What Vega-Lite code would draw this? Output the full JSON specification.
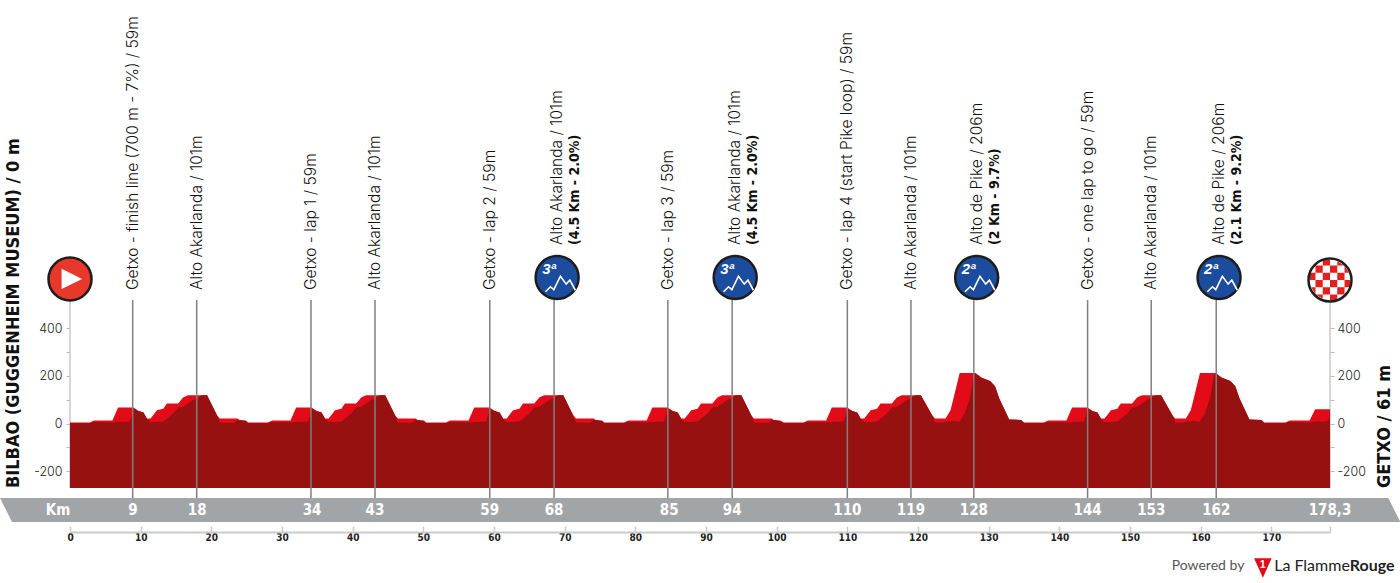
{
"$schema":"https://vega.github.io/schema/vega-lite/v6.json",
"width":1260,"height":532,"autosize":"none","padding":{"left":70,"right":70,"top":0,"bottom":51},
"background":"white",
"config":{"view":{"stroke":null},"axis":{"grid":false}},
"datasets":{
"profile":[
{"km":0,"upper":4,"lower":2},{"km":2.8,"upper":4,"lower":2},{"km":3.4,"upper":13,"lower":6},{"km":6.0,"upper":13,"lower":4},{"km":6.8,"upper":67,"lower":6},{"km":8.5,"upper":67,"lower":8},{"km":9.0,"upper":67,"lower":62},{"km":9.7,"upper":53,"lower":53},{"km":10.4,"upper":46,"lower":46},{"km":10.9,"upper":21,"lower":18},{"km":11.4,"upper":21,"lower":6},{"km":12.3,"upper":56,"lower":6},{"km":13.2,"upper":62,"lower":8},{"km":13.7,"upper":84,"lower":20},{"km":14.6,"upper":84,"lower":42},{"km":15.3,"upper":84,"lower":67},{"km":16.0,"upper":109,"lower":70},{"km":16.7,"upper":119,"lower":84},{"km":17.5,"upper":119,"lower":100},{"km":18.0,"upper":119,"lower":105},{"km":18.6,"upper":119,"lower":119},{"km":19.4,"upper":119,"lower":119},{"km":20.8,"upper":35,"lower":35},{"km":21.2,"upper":21,"lower":4},{"km":23.2,"upper":21,"lower":2},{"km":23.7,"upper":21,"lower":15},{"km":24.0,"upper":15,"lower":15},{"km":24.9,"upper":13,"lower":10},
{"km":25.2,"upper":4,"lower":2},{"km":28.0,"upper":4,"lower":2},{"km":28.6,"upper":13,"lower":6},{"km":31.2,"upper":13,"lower":4},{"km":32.0,"upper":67,"lower":6},{"km":33.7,"upper":67,"lower":8},{"km":34.2,"upper":67,"lower":62},{"km":34.9,"upper":53,"lower":53},{"km":35.6,"upper":46,"lower":46},{"km":36.1,"upper":21,"lower":18},{"km":36.6,"upper":21,"lower":6},{"km":37.5,"upper":56,"lower":6},{"km":38.4,"upper":62,"lower":8},{"km":38.9,"upper":84,"lower":20},{"km":39.8,"upper":84,"lower":42},{"km":40.5,"upper":84,"lower":67},{"km":41.2,"upper":109,"lower":70},{"km":41.9,"upper":119,"lower":84},{"km":42.7,"upper":119,"lower":100},{"km":43.2,"upper":119,"lower":105},{"km":43.8,"upper":119,"lower":119},{"km":44.6,"upper":119,"lower":119},{"km":46.0,"upper":35,"lower":35},{"km":46.4,"upper":21,"lower":4},{"km":48.4,"upper":21,"lower":2},{"km":48.9,"upper":21,"lower":15},{"km":49.2,"upper":15,"lower":15},{"km":50.1,"upper":13,"lower":10},
{"km":50.4,"upper":4,"lower":2},{"km":53.2,"upper":4,"lower":2},{"km":53.8,"upper":13,"lower":6},{"km":56.4,"upper":13,"lower":4},{"km":57.2,"upper":67,"lower":6},{"km":58.9,"upper":67,"lower":8},{"km":59.4,"upper":67,"lower":62},{"km":60.1,"upper":53,"lower":53},{"km":60.8,"upper":46,"lower":46},{"km":61.3,"upper":21,"lower":18},{"km":61.8,"upper":21,"lower":6},{"km":62.7,"upper":56,"lower":6},{"km":63.6,"upper":62,"lower":8},{"km":64.1,"upper":84,"lower":20},{"km":65.0,"upper":84,"lower":42},{"km":65.7,"upper":84,"lower":67},{"km":66.4,"upper":109,"lower":70},{"km":67.1,"upper":119,"lower":84},{"km":67.9,"upper":119,"lower":100},{"km":68.4,"upper":119,"lower":105},{"km":69.0,"upper":119,"lower":119},{"km":69.8,"upper":119,"lower":119},{"km":71.2,"upper":35,"lower":35},{"km":71.6,"upper":21,"lower":4},{"km":73.6,"upper":21,"lower":2},{"km":74.1,"upper":21,"lower":15},{"km":74.4,"upper":15,"lower":15},{"km":75.3,"upper":13,"lower":10},
{"km":75.6,"upper":4,"lower":2},{"km":78.4,"upper":4,"lower":2},{"km":79.0,"upper":13,"lower":6},{"km":81.6,"upper":13,"lower":4},{"km":82.4,"upper":67,"lower":6},{"km":84.1,"upper":67,"lower":8},{"km":84.6,"upper":67,"lower":62},{"km":85.3,"upper":53,"lower":53},{"km":86.0,"upper":46,"lower":46},{"km":86.5,"upper":21,"lower":18},{"km":87.0,"upper":21,"lower":6},{"km":87.9,"upper":56,"lower":6},{"km":88.8,"upper":62,"lower":8},{"km":89.3,"upper":84,"lower":20},{"km":90.2,"upper":84,"lower":42},{"km":90.9,"upper":84,"lower":67},{"km":91.6,"upper":109,"lower":70},{"km":92.3,"upper":119,"lower":84},{"km":93.1,"upper":119,"lower":100},{"km":93.6,"upper":119,"lower":105},{"km":94.2,"upper":119,"lower":119},{"km":95.0,"upper":119,"lower":119},{"km":96.4,"upper":35,"lower":35},{"km":96.8,"upper":21,"lower":4},{"km":98.8,"upper":21,"lower":2},{"km":99.3,"upper":21,"lower":15},{"km":99.6,"upper":15,"lower":15},{"km":100.5,"upper":13,"lower":10},
{"km":101.0,"upper":4,"lower":2},{"km":103.8,"upper":4,"lower":2},{"km":104.4,"upper":13,"lower":6},{"km":107.0,"upper":13,"lower":4},{"km":107.8,"upper":67,"lower":6},{"km":109.5,"upper":67,"lower":8},{"km":110.0,"upper":67,"lower":62},{"km":110.7,"upper":53,"lower":53},{"km":111.4,"upper":46,"lower":46},{"km":111.9,"upper":21,"lower":18},{"km":112.4,"upper":21,"lower":6},{"km":113.3,"upper":56,"lower":6},{"km":114.2,"upper":62,"lower":8},{"km":114.7,"upper":84,"lower":20},{"km":115.6,"upper":84,"lower":42},{"km":116.3,"upper":84,"lower":67},{"km":117.0,"upper":109,"lower":70},{"km":117.7,"upper":119,"lower":84},{"km":118.5,"upper":119,"lower":100},{"km":119.0,"upper":119,"lower":105},{"km":119.6,"upper":119,"lower":119},{"km":120.4,"upper":119,"lower":119},
{"km":122.0,"upper":35,"lower":35},{"km":122.4,"upper":21,"lower":4},{"km":123.6,"upper":21,"lower":4},{"km":123.9,"upper":21,"lower":7},{"km":124.6,"upper":56,"lower":12},{"km":125.9,"upper":213,"lower":8},{"km":126.6,"upper":213,"lower":42},{"km":127.3,"upper":213,"lower":105},{"km":127.9,"upper":213,"lower":205},{"km":128.1,"upper":213,"lower":213},{"km":129.0,"upper":193,"lower":193},{"km":130.2,"upper":179,"lower":179},{"km":130.9,"upper":157,"lower":157},{"km":131.5,"upper":105,"lower":105},{"km":132.9,"upper":17,"lower":17},{"km":134.6,"upper":15,"lower":15},
{"km":135.0,"upper":4,"lower":2},{"km":137.8,"upper":4,"lower":2},{"km":138.4,"upper":13,"lower":6},{"km":141.0,"upper":13,"lower":4},{"km":141.8,"upper":67,"lower":6},{"km":143.5,"upper":67,"lower":8},{"km":144.0,"upper":67,"lower":62},{"km":144.7,"upper":53,"lower":53},{"km":145.4,"upper":46,"lower":46},{"km":145.9,"upper":21,"lower":18},{"km":146.4,"upper":21,"lower":6},{"km":147.3,"upper":56,"lower":6},{"km":148.2,"upper":62,"lower":8},{"km":148.7,"upper":84,"lower":20},{"km":149.6,"upper":84,"lower":42},{"km":150.3,"upper":84,"lower":67},{"km":151.0,"upper":109,"lower":70},{"km":151.7,"upper":119,"lower":84},{"km":152.5,"upper":119,"lower":100},{"km":153.0,"upper":119,"lower":105},{"km":153.6,"upper":119,"lower":119},{"km":154.4,"upper":119,"lower":119},
{"km":156.0,"upper":35,"lower":35},{"km":156.4,"upper":21,"lower":4},{"km":157.6,"upper":21,"lower":4},{"km":157.9,"upper":21,"lower":7},{"km":158.6,"upper":56,"lower":12},{"km":159.9,"upper":213,"lower":8},{"km":160.6,"upper":213,"lower":42},{"km":161.3,"upper":213,"lower":105},{"km":161.9,"upper":213,"lower":205},{"km":162.1,"upper":213,"lower":213},{"km":163.0,"upper":193,"lower":193},{"km":164.2,"upper":179,"lower":179},{"km":164.9,"upper":157,"lower":157},{"km":165.5,"upper":105,"lower":105},{"km":166.9,"upper":17,"lower":17},{"km":168.6,"upper":15,"lower":15},
{"km":169.0,"upper":4,"lower":2},{"km":172.0,"upper":4,"lower":2},{"km":172.6,"upper":13,"lower":6},{"km":175.4,"upper":13,"lower":4},{"km":176.2,"upper":60,"lower":8},{"km":177.8,"upper":60,"lower":8},{"km":178.2,"upper":60,"lower":20},{"km":178.3,"upper":60,"lower":58}],
"band":[{"km":-9.91,"top":-313.7,"bottom":-313.7},{"km":-8.2,"top":-313.7,"bottom":-414.7},{"km":186.55,"top":-313.7,"bottom":-414.7},{"km":188.25,"top":-414.7,"bottom":-414.7}],
"markers":[{"km":8.87,"top":520,"bottom":-313.7},{"km":17.93,"top":520,"bottom":-313.7},{"km":34.1,"top":520,"bottom":-313.7},{"km":43.16,"top":520,"bottom":-313.7},{"km":59.4,"top":520,"bottom":-313.7},{"km":68.5,"top":520,"bottom":-313.7},{"km":84.6,"top":520,"bottom":-313.7},{"km":93.7,"top":520,"bottom":-313.7},{"km":110,"top":520,"bottom":-313.7},{"km":119,"top":520,"bottom":-313.7},{"km":127.9,"top":520,"bottom":-313.7},{"km":144,"top":520,"bottom":-313.7},{"km":153,"top":520,"bottom":-313.7},{"km":162.2,"top":520,"bottom":-313.7}],
"edges":[{"km":0,"top":520,"bottom":-272},{"km":178.3,"top":520,"bottom":-272}],
"single":[{"km":8.87,"elev":562,"label":"Getxo - finish line (700 m - 7%) / 59m"},{"km":17.93,"elev":562,"label":"Alto Akarlanda / 101m"},{"km":34.1,"elev":562,"label":"Getxo - lap 1 / 59m"},{"km":43.16,"elev":562,"label":"Alto Akarlanda / 101m"},{"km":59.4,"elev":562,"label":"Getxo - lap 2 / 59m"},{"km":84.6,"elev":562,"label":"Getxo - lap 3 / 59m"},{"km":110,"elev":562,"label":"Getxo - lap 4 (start Pike loop) / 59m"},{"km":119,"elev":562,"label":"Alto Akarlanda / 101m"},{"km":144,"elev":562,"label":"Getxo - one lap to go / 59m"},{"km":153,"elev":562,"label":"Alto Akarlanda / 101m"}],
"climbs":[{"km":68.5,"elev":752,"label":"Alto Akarlanda / 101m","detail":"(4.5 Km - 2.0%)"},{"km":93.7,"elev":752,"label":"Alto Akarlanda / 101m","detail":"(4.5 Km - 2.0%)"},{"km":127.9,"elev":752,"label":"Alto de Pike / 206m","detail":"(2 Km - 9.7%)"},{"km":162.2,"elev":752,"label":"Alto de Pike / 206m","detail":"(2.1 Km - 9.2%)"}],
"badges":[{"km":68.93,"elev":614.7,"cat":"3ª"},{"km":94.13,"elev":614.7,"cat":"3ª"},{"km":128.3,"elev":614.7,"cat":"2ª"},{"km":162.6,"elev":614.7,"cat":"2ª"}],
"start":[{"km":0,"elev":608.4}],
"finish":[{"km":178.3,"elev":604}],
"kmlabels":[{"km":-1.7,"elev":-365,"label":"Km"},{"km":8.9,"elev":-365,"label":"9"},{"km":18,"elev":-365,"label":"18"},{"km":34.25,"elev":-365,"label":"34"},{"km":43.15,"elev":-365,"label":"43"},{"km":59.4,"elev":-365,"label":"59"},{"km":68.5,"elev":-365,"label":"68"},{"km":84.8,"elev":-365,"label":"85"},{"km":93.7,"elev":-365,"label":"94"},{"km":110,"elev":-365,"label":"110"},{"km":119,"elev":-365,"label":"119"},{"km":127.9,"elev":-365,"label":"128"},{"km":144,"elev":-365,"label":"144"},{"km":153,"elev":-365,"label":"153"},{"km":162.2,"elev":-365,"label":"162"},{"km":178.3,"elev":-365,"label":"178,3"}],
"sideStart":[{"km":-7.9,"elev":-272,"label":"BILBAO (GUGGENHEIM MUSEUM) / 0 m"}],
"sideEnd":[{"km":186.1,"elev":-272,"label":"GETXO / 61 m"}],
"powered":[{"km":155.9,"elev":-600,"label":"Powered by"}],
"brandA":[{"km":170.4,"elev":-600,"label":"La Flamme"}],
"brandB":[{"km":181.1,"elev":-600,"label":"Rouge"}],
"logo":[{"km":168.8,"elev":-608,"label":"1"}]
},
"encoding":{"x":{"field":"km","type":"quantitative","title":null,"scale":{"domain":[0,178.3],"nice":false,"zero":false},
"axis":{"orient":"bottom","title":null,"values":[0,10,20,30,40,50,60,70,80,90,100,110,120,130,140,150,160,170,178.3],"labelExpr":"datum.value>175?'':toString(datum.value)","domainColor":"#c9cbcc","domainWidth":2,"tickColor":"#c9cbcc","tickWidth":1.5,"tickSize":-6,"labelPadding":6,"labelFont":"DejaVu Sans Condensed","labelFontWeight":"bold","labelFontSize":10,"labelColor":"#222222","labelFlush":false,"labelOverlap":false}}},
"layer":[
{"data":{"name":"band"},"mark":{"type":"area","color":"#a2a5a7"},"encoding":{"y":{"field":"top","type":"quantitative","title":null,"scale":{"domain":[-456.8,1783],"nice":false,"zero":false},"axis":{"orient":"left","title":null,"values":[-200,-100,0,100,200,300,400],"labelExpr":"datum.value%200==0?toString(datum.value):''","domain":false,"tickColor":"#b5b5b5","tickSize":4,"tickWidth":1,"labelPadding":4,"labelFont":"Inter","labelFontWeight":300,"labelFontSize":12.5,"labelColor":"#222222"}},"y2":{"field":"bottom"}}},
{"data":{"name":"edges"},"mark":{"type":"rule","color":"#c9c9c9","strokeWidth":1.5},"encoding":{"y":{"field":"top","type":"quantitative","title":null,"scale":{"domain":[-456.8,1783],"nice":false,"zero":false},"axis":{"orient":"right","title":null,"values":[-200,-100,0,100,200,300,400],"labelExpr":"datum.value%200==0?toString(datum.value):''","domain":false,"tickColor":"#b5b5b5","tickSize":4,"tickWidth":1,"labelPadding":3,"labelFont":"Inter","labelFontWeight":300,"labelFontSize":12.5,"labelColor":"#222222"}},"y2":{"field":"bottom"}}},
{"data":{"name":"profile"},"mark":{"type":"area","color":"#e30b17"},"encoding":{"y":{"field":"upper","type":"quantitative","scale":{"domain":[-456.8,1783],"nice":false,"zero":false},"axis":null},"y2":{"datum":-272}}},
{"data":{"name":"profile"},"mark":{"type":"area","color":"#981111"},"encoding":{"y":{"field":"lower","type":"quantitative","scale":{"domain":[-456.8,1783],"nice":false,"zero":false},"axis":null},"y2":{"datum":-272}}},
{"data":{"name":"markers"},"mark":{"type":"rule","color":"#7f7f7f","strokeWidth":1.5},"encoding":{"y":{"field":"top","type":"quantitative","scale":{"domain":[-456.8,1783],"nice":false,"zero":false},"axis":null},"y2":{"field":"bottom"}}},
{"data":{"name":"single"},"mark":{"type":"text","angle":270,"align":"left","baseline":"middle","font":"Inter","fontWeight":300,"fontSize":15.6,"color":"#111111"},"encoding":{"y":{"field":"elev","type":"quantitative","scale":{"domain":[-456.8,1783],"nice":false,"zero":false},"axis":null},"text":{"field":"label"}}},
{"data":{"name":"climbs"},"mark":{"type":"text","angle":270,"align":"left","baseline":"middle","font":"Inter","fontWeight":300,"fontSize":15.6,"color":"#111111","dy":3},"encoding":{"y":{"field":"elev","type":"quantitative","scale":{"domain":[-456.8,1783],"nice":false,"zero":false},"axis":null},"text":{"field":"label"}}},
{"data":{"name":"climbs"},"mark":{"type":"text","angle":270,"align":"left","baseline":"middle","font":"DejaVu Sans Condensed","fontWeight":"bold","fontSize":14,"color":"#111111","dy":21},"encoding":{"y":{"field":"elev","type":"quantitative","scale":{"domain":[-456.8,1783],"nice":false,"zero":false},"axis":null},"text":{"field":"detail"}}},
{"data":{"name":"badges"},"mark":{"type":"point","shape":"circle","filled":true,"fill":"#1c4c9e","stroke":"#1d1d1d","strokeWidth":2.5,"size":1850,"opacity":1},"encoding":{"y":{"field":"elev","type":"quantitative","scale":{"domain":[-456.8,1783],"nice":false,"zero":false},"axis":null}}},
{"data":{"name":"badges"},"mark":{"type":"point","shape":"M-0.53 0.65L-0.3 0.42L-0.15 0.55L0.15 -0.06L0.41 0.3L0.58 0.12L0.83 0.58","filled":false,"stroke":"white","strokeWidth":1.6,"size":1936,"opacity":1},"encoding":{"y":{"field":"elev","type":"quantitative","scale":{"domain":[-456.8,1783],"nice":false,"zero":false},"axis":null}}},
{"data":{"name":"badges"},"mark":{"type":"text","font":"Liberation Sans","fontWeight":"bold","fontStyle":"italic","fontSize":15,"color":"white","dx":-8,"dy":-8},"encoding":{"y":{"field":"elev","type":"quantitative","scale":{"domain":[-456.8,1783],"nice":false,"zero":false},"axis":null},"text":{"field":"cat"}}},
{"data":{"name":"start"},"mark":{"type":"point","shape":"circle","filled":true,"fill":"#e8372b","stroke":"#1d1d1d","strokeWidth":2.5,"size":1850,"opacity":1},"encoding":{"y":{"field":"elev","type":"quantitative","scale":{"domain":[-456.8,1783],"nice":false,"zero":false},"axis":null}}},
{"data":{"name":"start"},"mark":{"type":"point","shape":"M-0.38 -0.46L0.55 0L-0.38 0.46Z","filled":true,"fill":"white","stroke":null,"size":1936,"opacity":1},"encoding":{"y":{"field":"elev","type":"quantitative","scale":{"domain":[-456.8,1783],"nice":false,"zero":false},"axis":null}}},
{"data":{"name":"finish"},"mark":{"type":"point","shape":"circle","filled":true,"fill":"white","stroke":null,"size":1850,"opacity":1},"encoding":{"y":{"field":"elev","type":"quantitative","scale":{"domain":[-456.8,1783],"nice":false,"zero":false},"axis":null}}},
{"data":{"name":"finish"},"mark":{"type":"point","shape":"M-0.92 -0.33h0.26v0.33h-0.26ZM-0.66 -0.66h0.33v0.33h-0.33ZM-0.66 0h0.33v0.33h-0.33ZM-0.33 -0.92h0.33v0.26h-0.33ZM-0.33 -0.33h0.33v0.33h-0.33ZM-0.33 0.33h0.33v0.33h-0.33ZM0 -0.66h0.33v0.33h-0.33ZM0 0h0.33v0.33h-0.33ZM0 0.66h0.33v0.26h-0.33ZM0.33 -0.33h0.33v0.33h-0.33ZM0.33 0.33h0.33v0.33h-0.33ZM0.66 0h0.26v0.33h-0.26ZM-0.85 0.33L-0.66 0.33L-0.66 0.66ZM-0.66 0.66L-0.33 0.66L-0.33 0.85ZM0.33 -0.85L0.66 -0.66L0.33 -0.66ZM0.66 -0.66L0.85 -0.33L0.66 -0.33Z","filled":true,"fill":"#e3201f","stroke":null,"size":1936,"opacity":1},"encoding":{"y":{"field":"elev","type":"quantitative","scale":{"domain":[-456.8,1783],"nice":false,"zero":false},"axis":null}}},
{"data":{"name":"finish"},"mark":{"type":"point","shape":"circle","filled":false,"stroke":"#1d1d1d","strokeWidth":2.5,"size":1850,"opacity":1},"encoding":{"y":{"field":"elev","type":"quantitative","scale":{"domain":[-456.8,1783],"nice":false,"zero":false},"axis":null}}},
{"data":{"name":"kmlabels"},"mark":{"type":"text","font":"DejaVu Sans Condensed","fontWeight":"bold","fontSize":15,"color":"white","baseline":"middle"},"encoding":{"y":{"field":"elev","type":"quantitative","scale":{"domain":[-456.8,1783],"nice":false,"zero":false},"axis":null},"text":{"field":"label"}}},
{"data":{"name":"sideStart"},"mark":{"type":"text","angle":270,"align":"left","baseline":"middle","font":"DejaVu Sans Condensed","fontWeight":"bold","fontSize":18,"color":"#111111"},"encoding":{"y":{"field":"elev","type":"quantitative","scale":{"domain":[-456.8,1783],"nice":false,"zero":false},"axis":null},"text":{"field":"label"}}},
{"data":{"name":"sideEnd"},"mark":{"type":"text","angle":270,"align":"left","baseline":"middle","font":"DejaVu Sans Condensed","fontWeight":"bold","fontSize":18,"color":"#111111"},"encoding":{"y":{"field":"elev","type":"quantitative","scale":{"domain":[-456.8,1783],"nice":false,"zero":false},"axis":null},"text":{"field":"label"}}},
{"data":{"name":"powered"},"mark":{"type":"text","align":"left","baseline":"middle","font":"Lato","fontSize":14,"color":"#555555"},"encoding":{"y":{"field":"elev","type":"quantitative","scale":{"domain":[-456.8,1783],"nice":false,"zero":false},"axis":null},"text":{"field":"label"}}},
{"data":{"name":"logo"},"mark":{"type":"point","shape":"M-0.9 -1L0.9 -1L0 1Z","filled":true,"fill":"#e30b17","stroke":null,"size":380,"opacity":1},"encoding":{"y":{"field":"elev","type":"quantitative","scale":{"domain":[-456.8,1783],"nice":false,"zero":false},"axis":null}}},
{"data":{"name":"logo"},"mark":{"type":"text","font":"Liberation Sans","fontWeight":"bold","fontSize":10,"color":"white","dy":-3,"baseline":"middle"},"encoding":{"y":{"field":"elev","type":"quantitative","scale":{"domain":[-456.8,1783],"nice":false,"zero":false},"axis":null},"text":{"field":"label"}}},
{"data":{"name":"brandA"},"mark":{"type":"text","align":"left","baseline":"middle","font":"Lato","fontSize":16,"color":"#222222"},"encoding":{"y":{"field":"elev","type":"quantitative","scale":{"domain":[-456.8,1783],"nice":false,"zero":false},"axis":null},"text":{"field":"label"}}},
{"data":{"name":"brandB"},"mark":{"type":"text","align":"left","baseline":"middle","font":"Lato","fontWeight":"bold","fontSize":16,"color":"#222222"},"encoding":{"y":{"field":"elev","type":"quantitative","scale":{"domain":[-456.8,1783],"nice":false,"zero":false},"axis":null},"text":{"field":"label"}}}
],
"resolve":{"scale":{"y":"shared"},"axis":{"y":"independent"}}
}
